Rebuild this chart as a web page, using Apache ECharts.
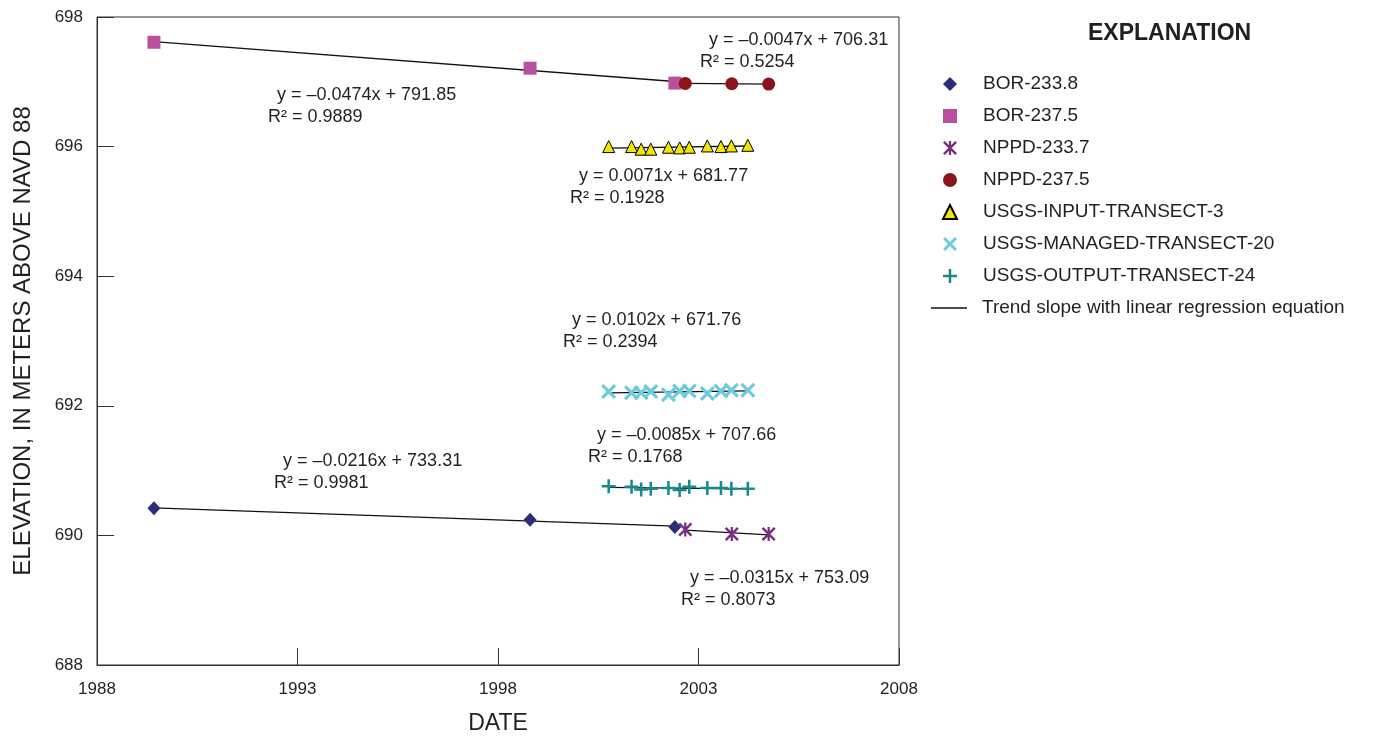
<!DOCTYPE html>
<html>
<head>
<meta charset="utf-8">
<script src="https://cdn.jsdelivr.net/npm/echarts@6/dist/echarts.min.js"></script>
<style>
  html, body { margin: 0; background: #fff; }
  #chart { width: 1379px; height: 738px; }
</style>
</head>
<body>
<div id="chart"></div>
<script>
// dates are decimal years, elevations in metres above NAVD 88
const borDates = [1989.42, 1998.80, 2002.41]
const bor2338 = [690.42, 690.24, 690.13]
const bor2375 = [697.61, 697.21, 696.98]

const nppdDates = [2002.67, 2003.83, 2004.75]
const nppd2337 = [690.09, 690.02, 690.02]
const nppd2375 = [696.975, 696.97, 696.965]

const usgsDates = [2000.76, 2001.33, 2001.57, 2001.81, 2002.25, 2002.53, 2002.77, 2003.22, 2003.56, 2003.82, 2004.23]
const usgsInput = [696.00, 696.00, 695.96, 695.96, 695.99, 695.98, 695.99, 696.01, 696.00, 696.01, 696.02]
const usgsManaged = [692.22, 692.20, 692.20, 692.22, 692.17, 692.23, 692.23, 692.19, 692.23, 692.24, 692.24]
const usgsOutput = [690.76, 690.75, 690.71, 690.72, 690.73, 690.70, 690.75, 690.73, 690.73, 690.72, 690.72]

const xTicks = [1988, 1993, 1998, 2003, 2008]
const yTicks = [688, 690, 692, 694, 696, 698]

// regression labels as printed on the figure
const eqLabels = [
  ['y = \u20130.0047x + 706.31', 'R\u00b2 = 0.5254'],
  ['y = \u20130.0474x + 791.85', 'R\u00b2 = 0.9889'],
  ['y = 0.0071x + 681.77', 'R\u00b2 = 0.1928'],
  ['y = 0.0102x + 671.76', 'R\u00b2 = 0.2394'],
  ['y = \u20130.0085x + 707.66', 'R\u00b2 = 0.1768'],
  ['y = \u20130.0216x + 733.31', 'R\u00b2 = 0.9981'],
  ['y = \u20130.0315x + 753.09', 'R\u00b2 = 0.8073']
]
// where each label sits (left of line 1, top of line 1)
const eqPos = [[709, 31], [277, 86], [579, 167], [572, 311], [597, 426], [283, 452], [690, 569]]

const FONT = '"Liberation Sans", Arial, Helvetica, sans-serif'
const TEXT = '#231f20'
const TREND = 'Trend slope with linear regression equation'

const pts = (xs, ys) => xs.map((x, i) => [x, ys[i]])

// least squares line over the span of the points
function trend(xs, ys) {
  const n = xs.length
  const mx = xs.reduce((a, b) => a + b, 0) / n
  const my = ys.reduce((a, b) => a + b, 0) / n
  let sxy = 0, sxx = 0
  xs.forEach((x, i) => { sxy += (x - mx) * (ys[i] - my); sxx += (x - mx) * (x - mx) })
  const k = sxy / sxx
  const x0 = Math.min(...xs), x1 = Math.max(...xs)
  return [[x0, my + k * (x0 - mx)], [x1, my + k * (x1 - mx)]]
}

const SYM_X = 'path://M0,3 L3,0 L10,7 L17,0 L20,3 L13,10 L20,17 L17,20 L10,13 L3,20 L0,17 L7,10 Z'
const SYM_PLUS = 'path://M8.2,0 H11.8 V8.2 H20 V11.8 H11.8 V20 H8.2 V11.8 H0 V8.2 H8.2 Z'
const SYM_AST = 'path://M8.4,0 H11.6 V20 H8.4 Z M0,2.5 L2.5,0 L20,17.5 L17.5,20 Z M17.5,0 L20,2.5 L2.5,20 L0,17.5 Z'
const SYM_LINE = 'path://M0,0 H36 V1.3 H0 Z'

const groups = [
  { name: 'BOR-233.8', xs: borDates, ys: bor2338, symbol: 'diamond', size: [13, 14], color: '#2b2d78' },
  { name: 'BOR-237.5', xs: borDates, ys: bor2375, symbol: 'rect', size: 13, color: '#b9509f' },
  { name: 'NPPD-233.7', xs: nppdDates, ys: nppd2337, symbol: SYM_AST, size: 14, color: '#7a2e80' },
  { name: 'NPPD-237.5', xs: nppdDates, ys: nppd2375, symbol: 'circle', size: 13, color: '#8a1419' },
  { name: 'USGS-INPUT-TRANSECT-3', xs: usgsDates, ys: usgsInput, symbol: 'triangle', size: 12, color: '#f2e500', border: '#000' },
  { name: 'USGS-MANAGED-TRANSECT-20', xs: usgsDates, ys: usgsManaged, symbol: SYM_X, size: 15, color: '#6ccbdc' },
  { name: 'USGS-OUTPUT-TRANSECT-24', xs: usgsDates, ys: usgsOutput, symbol: SYM_PLUS, size: 14, color: '#178a8c' }
]

const trendSeries = groups.map(g => ({
  name: TREND,
  type: 'line',
  data: trend(g.xs, g.ys),
  symbol: 'none',
  silent: true,
  z: 1,
  color: '#111',
  lineStyle: { color: '#111', width: 1.3 }
}))

const pointSeries = groups.map(g => ({
  name: g.name,
  type: 'scatter',
  data: pts(g.xs, g.ys),
  symbol: g.symbol,
  symbolSize: g.size,
  z: 3,
  itemStyle: g.border
    ? { color: g.color, opacity: 1, borderColor: g.border, borderWidth: 1 }
    : { color: g.color, opacity: 1 }
}))

const annotations = []
eqLabels.forEach((lab, i) => {
  const [x, y] = eqPos[i]
  annotations.push({ type: 'text', left: x, top: y, style: { text: lab[0], font: '18px ' + FONT, fill: TEXT } })
  annotations.push({ type: 'text', left: x - 9, top: y + 22, style: { text: lab[1], font: '18px ' + FONT, fill: TEXT } })
})

const chart = echarts.init(document.getElementById('chart'))
chart.setOption({
  animation: false,
  backgroundColor: '#fff',
  title: {
    text: 'EXPLANATION',
    left: 1088,
    top: 22,
    padding: 0,
    textStyle: { fontFamily: FONT, fontSize: 23, fontWeight: 'bold', color: TEXT }
  },
  grid: {
    left: 97, right: 480, top: 17, bottom: 73,
    outerBoundsMode: 'none',
    containLabel: false,
    show: true, borderColor: '#333', borderWidth: 1
  },
  legend: [
    {
      data: groups.map(g => g.name),
      orient: 'vertical',
      left: 942,
      top: 74,
      padding: 0,
      itemWidth: 14,
      itemHeight: 14,
      itemGap: 12,
      textStyle: { fontFamily: FONT, fontSize: 19, lineHeight: 20, color: TEXT, padding: [0, 0, 0, 21] }
    },
    {
      data: [{ name: TREND, icon: SYM_LINE }],
      left: 931,
      top: 298,
      padding: 0,
      itemWidth: 36,
      itemHeight: 14,
      textStyle: { fontFamily: FONT, fontSize: 19, lineHeight: 20, color: TEXT, padding: [0, 0, 0, 10] }
    }
  ],
  xAxis: {
    type: 'value',
    min: xTicks[0],
    max: xTicks[xTicks.length - 1],
    interval: xTicks[1] - xTicks[0],
    name: 'DATE',
    nameLocation: 'middle',
    nameGap: 47,
    nameTextStyle: { fontFamily: FONT, fontSize: 23, color: TEXT },
    axisLine: { lineStyle: { color: '#333', width: 1 } },
    axisTick: { inside: true, length: 17, lineStyle: { color: '#333' } },
    axisLabel: { fontFamily: FONT, fontSize: 17, color: TEXT, margin: 16, formatter: v => String(v) },
    splitLine: { show: false }
  },
  yAxis: {
    type: 'value',
    min: yTicks[0],
    max: yTicks[yTicks.length - 1],
    interval: yTicks[1] - yTicks[0],
    name: 'ELEVATION, IN METERS ABOVE NAVD 88',
    nameLocation: 'middle',
    nameGap: 62,
    nameTextStyle: { fontFamily: FONT, fontSize: 24, color: TEXT },
    axisLine: { lineStyle: { color: '#333', width: 1 } },
    axisTick: { inside: true, length: 17, lineStyle: { color: '#333' } },
    axisLabel: { fontFamily: FONT, fontSize: 17, color: TEXT, margin: 14 },
    splitLine: { show: false }
  },
  graphic: annotations,
  series: [...trendSeries, ...pointSeries]
})
</script>
</body>
</html>
